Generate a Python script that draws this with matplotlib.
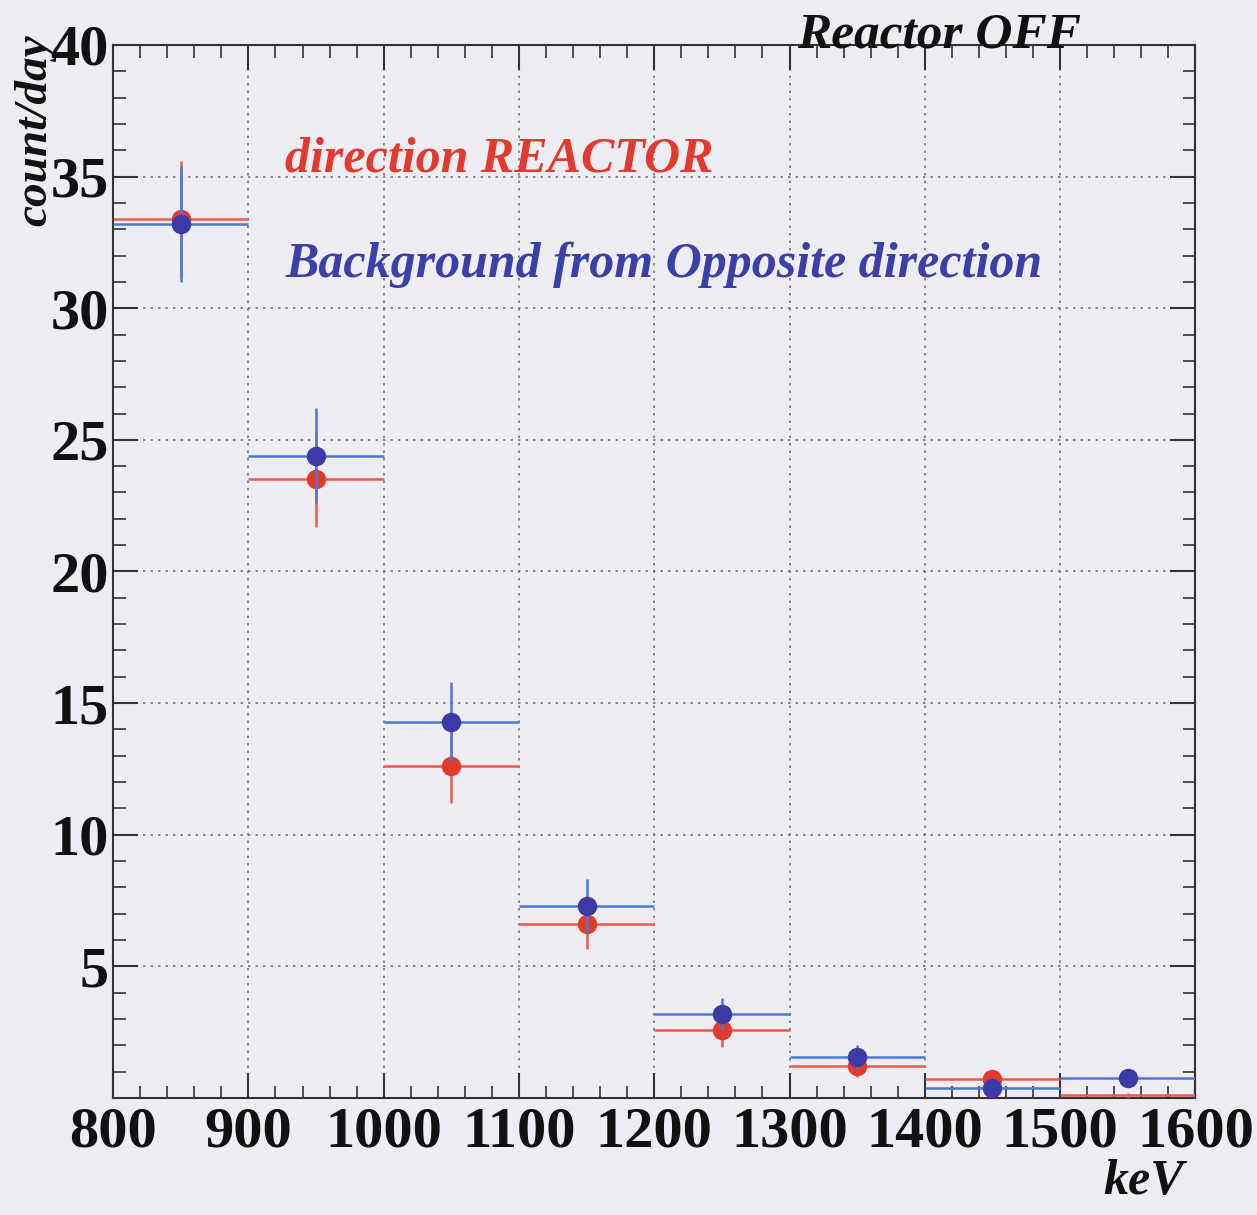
import numpy as np
import matplotlib
matplotlib.use("Agg")
import matplotlib.pyplot as plt
from matplotlib.ticker import MultipleLocator, FixedLocator

# ---- data ----
bin_centers = [850, 950, 1050, 1150, 1250, 1350, 1450, 1550]
bin_halfwidth = [50, 50, 50, 50, 50, 50, 50, 50]
reactor_vals = [33.4, 23.5, 12.6, 6.6, 2.6, 1.2, 0.72, 0.1]
reactor_err = [2.2, 1.8, 1.4, 0.95, 0.65, 0.4, 0.3, 0.1]
backgr_vals = [33.2, 24.4, 14.3, 7.3, 3.2, 1.55, 0.38, 0.76]
backgr_err = [2.2, 1.8, 1.5, 1.0, 0.6, 0.45, 0.3, 0.3]
xticks = [800, 900, 1000, 1100, 1200, 1300, 1400, 1500, 1600]
yticks = [5, 10, 15, 20, 25, 30, 35, 40]

bg = "#eeedf3"
red = "#e23a2c"
red_line = "#ee5a4a"
blue_mark = "#3b3aa6"
blue_line = "#4a78d8"
blue_text = "#3d3fa8"

fig = plt.figure(figsize=(12.57, 12.15), dpi=100, facecolor=bg)
ax = fig.add_axes([0.09, 0.0963, 0.861, 0.8667])
ax.set_facecolor(bg)

serif = ["Liberation Serif", "DejaVu Serif"]

# red series (reactor direction)
rv = np.array(reactor_vals)
show_r = rv > 0.3
ax.errorbar(bin_centers, reactor_vals, xerr=bin_halfwidth, yerr=reactor_err,
            fmt="none", ecolor=red_line, elinewidth=1.8, zorder=3)
ax.plot(np.array(bin_centers)[show_r], rv[show_r], "o", color=red,
        markersize=13, zorder=4)

# blue series (background)
ax.errorbar(bin_centers, backgr_vals, xerr=bin_halfwidth, yerr=backgr_err,
            fmt="none", ecolor=blue_line, elinewidth=1.8, zorder=5)
ax.plot(bin_centers, backgr_vals, "o", color=blue_mark, markersize=13, zorder=6)

ax.set_xlim(800, 1600)
ax.set_ylim(0, 40)
ax.xaxis.set_major_locator(FixedLocator(xticks))
ax.yaxis.set_major_locator(FixedLocator(yticks))
ax.xaxis.set_minor_locator(MultipleLocator(20))
ax.yaxis.set_minor_locator(MultipleLocator(1))
ax.grid(True, which="major", linestyle=(0, (1.5, 3)), color="#777777", linewidth=1.2)
ax.tick_params(which="both", direction="in", top=True, right=True, color="#333333")
ax.tick_params(which="major", length=18, width=1.5, pad=6)
ax.tick_params(which="minor", length=9, width=1.2)
ax.tick_params(axis="y", pad=3)
for lab in ax.get_xticklabels() + ax.get_yticklabels():
    lab.set_fontfamily(serif)
    lab.set_fontweight("bold")
    lab.set_fontsize(42)
    lab.set_color("#111111")
for s in ax.spines.values():
    s.set_color("#333333")
    s.set_linewidth(1.5)

fig.text(0.028, 0.972, "count/day", rotation=90, ha="center", va="top",
         fontsize=34, fontweight="bold", fontstyle="italic", family=serif, color="#111111")
fig.text(0.942, 0.008, "keV", ha="right", va="bottom",
         fontsize=36, fontweight="bold", fontstyle="italic", family=serif, color="#111111")
fig.text(0.860, 0.971, "Reactor OFF", ha="right", va="center",
         fontsize=37, fontweight="bold", fontstyle="italic", family=serif, color="#111111")
ax.text(0.159, 0.891, "direction REACTOR", transform=ax.transAxes, ha="left", va="center",
        fontsize=36, fontweight="bold", fontstyle="italic", family=serif, color=red)
ax.text(0.159, 0.791, "Background from Opposite direction", transform=ax.transAxes,
        ha="left", va="center", fontsize=36, fontweight="bold", fontstyle="italic",
        family=serif, color=blue_text)

fig.savefig("out.png", dpi=100, facecolor=bg)
